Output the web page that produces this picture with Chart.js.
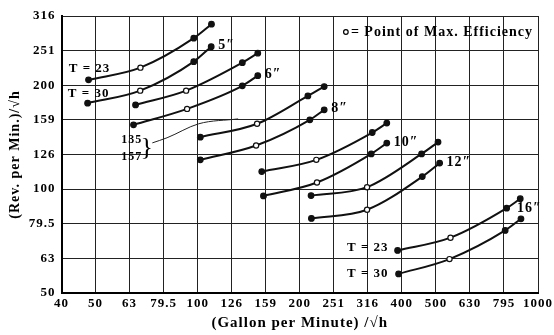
<!DOCTYPE html>
<html>
<head>
<meta charset="utf-8">
<script src="https://cdn.jsdelivr.net/npm/chart.js@4.4.1/dist/chart.umd.min.js"></script>
<style>
    html, body { margin: 0; padding: 0; background: #fff; }
    #wrap { width: 554px; height: 335px; }
</style>
</head>
<body>
<div id="wrap"><canvas id="pumpChart"></canvas></div>
<script>
// log-log axes, ticks are tenths of a decade
const xTickVals = [39.81, 50.12, 63.10, 79.43, 100, 125.9, 158.5, 199.5, 251.2, 316.2, 398.1, 501.2, 631.0, 794.3, 1000];
const xTickLabels = ['40', '50', '63', '79.5', '100', '126', '159', '200', '251', '316', '400', '500', '630', '795', '1000'];
const yTickVals = [50.12, 63.10, 79.43, 100, 125.9, 158.5, 199.5, 251.2, 316.2];
const yTickLabels = ['50', '63', '79.5', '100', '126', '159', '200', '251', '316'];

const sizes = ['5″', '6″', '8″', '10″', '12″', '16″'];
const tempLabels = ['T = 23', 'T = 30'];
const maxEffIdx = 1; // open circle = point of max efficiency

// gallons per minute / sqrt(h)  and  rev per min / sqrt(h)
const q5T23 = [47.8, 67.9, 97.4, 109.8];
const n5T23 = [206.8, 224.3, 272.8, 299.4];
const q5T30 = [47.5, 67.8, 97.4, 109.6];
const n5T30 = [177.1, 192.5, 233.4, 257.9];

const q6T23 = [65.7, 92.5, 135.3, 150.2];
const n6T23 = [175.1, 192.5, 231.9, 246.9];
const q6T30 = [64.8, 93.1, 135.3, 150.2];
const n6T30 = [153.3, 170.5, 198.7, 212.7];

const q8T23 = [101.8, 149.5, 210.8, 235.4];
const n8T23 = [141.3, 154.4, 185.9, 197.8];
const q8T30 = [101.8, 148.5, 213.6, 235.4];
const n8T30 = [121.5, 133.6, 158.5, 169.4];

const q10T23 = [154.3, 223.2, 325.8, 359.5];
const n10T23 = [112.4, 121.5, 145.7, 155.1];
const q10T30 = [156.1, 224.2, 323.6, 359.5];
const n10T30 = [95.6, 104.5, 126.4, 135.8];

const q12T23 = [215.4, 314.6, 454.9, 508.5];
const n12T23 = [95.8, 101.3, 126.4, 136.7];
const q12T30 = [215.9, 314.6, 457.1, 514.0];
const n12T30 = [82.3, 87.2, 108.7, 118.9];

const q16T23 = [386.8, 553.2, 808.8, 886.8];
const n16T23 = [66.5, 72.4, 88.1, 93.8];
const q16T30 = [389.4, 549.5, 800.8, 891.1];
const n16T30 = [56.9, 62.8, 76.0, 82.1];

// leader line from the "135 / 157" brace
const leaderQ = [73.6, 81.3, 100.7, 131.5];
const leaderN = [136.0, 140.7, 154.4, 159.5];

const curvesQ = [q5T23, q5T30, q6T23, q6T30, q8T23, q8T30, q10T23, q10T30, q12T23, q12T30, q16T23, q16T30];
const curvesN = [n5T23, n5T30, n6T23, n6T30, n8T23, n8T30, n10T23, n10T30, n12T23, n12T30, n16T23, n16T30];

var serif = '"Liberation Serif", "Times New Roman", serif';

var datasets = curvesQ.map(function(qs, c) {
    return {
        label: sizes[Math.floor(c / 2)] + ' ' + tempLabels[c % 2],
        data: qs.map(function(q, i) { return { x: q, y: curvesN[c][i] }; }),
        borderColor: '#111',
        borderWidth: 2,
        cubicInterpolationMode: 'monotone',
        pointRadius: qs.map(function(_, i) { return i === maxEffIdx ? 2.6 : 2.8; }),
        pointBackgroundColor: qs.map(function(_, i) { return i === maxEffIdx ? '#fff' : '#111'; }),
        pointBorderColor: '#111',
        pointBorderWidth: 1.2
    };
});
datasets.push({
    label: 'leader',
    data: leaderQ.map(function(q, i) { return { x: q, y: leaderN[i] }; }),
    borderColor: '#222',
    borderWidth: 1,
    cubicInterpolationMode: 'monotone',
    pointRadius: 0
});

// spaced-out lettering like the printed figure
var spacing = {
    id: 'spacing',
    beforeDraw: function(chart) { chart.ctx.letterSpacing = '1px'; }
};

var notes = {
    id: 'notes',
    afterDatasetsDraw: function(chart) {
        var ctx = chart.ctx;
        var pt = function(c, i) { return chart.getDatasetMeta(c).data[i]; };
        ctx.save();
        ctx.letterSpacing = '1px';
        ctx.fillStyle = '#000';
        ctx.textBaseline = 'middle';

        // size labels at the end of each T=30 curve
        ctx.font = 'bold 14px ' + serif;
        ctx.textAlign = 'left';
        sizes.forEach(function(s, k) {
            var c = 2 * k + 1;
            var last = pt(c, curvesQ[c].length - 1);
            if (k === sizes.length - 1) ctx.fillText(s, last.x - 4, last.y - 10);
            else ctx.fillText(s, last.x + 7, last.y - 1);
        });

        // temperature labels on the 5" and 16" pumps
        ctx.font = 'bold 13px ' + serif;
        ctx.textAlign = 'center';
        ctx.fillText(tempLabels[0], pt(0, 0).x + 1, pt(0, 0).y - 11);
        ctx.fillText(tempLabels[1], pt(1, 0).x + 1, pt(1, 0).y - 10);
        ctx.textAlign = 'right';
        ctx.fillText(tempLabels[0], pt(10, 0).x - 9, pt(10, 0).y - 3);
        ctx.fillText(tempLabels[1], pt(11, 0).x - 10, pt(11, 0).y);

        // brace with the two numbers
        var lead = pt(datasets.length - 1, 0);
        ctx.font = 'bold 12px ' + serif;
        ctx.fillText('135', lead.x - 10, lead.y - 3);
        ctx.fillText('157', lead.x - 10, lead.y + 14);
        ctx.font = '26px ' + serif;
        ctx.textAlign = 'center';
        ctx.fillText('}', lead.x - 5, lead.y + 5);

        // key, top right
        var ca = chart.chartArea;
        ctx.font = 'bold 14px ' + serif;
        ctx.textAlign = 'right';
        var keyText = '= Point of Max. Efficiency';
        var ky = ca.top + 16;
        var kx = ca.right - 5;
        ctx.fillText(keyText, kx, ky);
        var w = ctx.measureText(keyText).width;
        ctx.beginPath();
        ctx.arc(kx - w - 5, ky, 2.3, 0, Math.PI * 2);
        ctx.fillStyle = '#fff';
        ctx.fill();
        ctx.lineWidth = 1.2;
        ctx.strokeStyle = '#000';
        ctx.stroke();
        ctx.restore();
    }
};

var ctx = document.getElementById('pumpChart').getContext('2d');
var pumpChart = new Chart(ctx, {
    type: 'line',
    data: { datasets: datasets },
    plugins: [spacing, notes],
    options: {
        responsive: true,
        maintainAspectRatio: false,
        animation: false,
        devicePixelRatio: 1,
        layout: { padding: { top: 16, right: 10.5, left: 0, bottom: 0 } },
        plugins: {
            legend: { display: false },
            tooltip: { enabled: false }
        },
        scales: {
            x: {
                type: 'logarithmic',
                min: 39.81,
                max: 1000,
                bounds: 'data',
                afterBuildTicks: function(s) { s.ticks = xTickVals.map(function(v) { return { value: v }; }); },
                afterFit: function(s) { s.height = 42; },
                grid: { color: '#222', lineWidth: 1, drawTicks: false },
                border: { color: '#000', width: 2 },
                ticks: {
                    padding: 3,
                    color: '#000',
                    autoSkip: false,
                    maxRotation: 0,
                    font: { family: serif, size: 13, weight: 'bold' },
                    callback: function(v, i) { return xTickLabels[i]; }
                },
                title: {
                    display: true,
                    text: '(Gallon per Minute) /√h',
                    color: '#000',
                    font: { family: serif, size: 15, weight: 'bold' },
                    padding: { top: 0, bottom: 3 }
                }
            },
            y: {
                type: 'logarithmic',
                min: 50.12,
                max: 316.2,
                bounds: 'data',
                afterBuildTicks: function(s) { s.ticks = yTickVals.map(function(v) { return { value: v }; }); },
                afterFit: function(s) { s.width = 61.5; },
                grid: { color: '#222', lineWidth: 1, drawTicks: false },
                border: { color: '#000', width: 2 },
                ticks: {
                    padding: 6,
                    color: '#000',
                    autoSkip: false,
                    font: { family: serif, size: 13, weight: 'bold' },
                    callback: function(v, i) { return yTickLabels[i]; }
                },
                title: {
                    display: true,
                    text: '(Rev. per Min.)/√h',
                    color: '#000',
                    font: { family: serif, size: 14, weight: 'bold' },
                    padding: { top: 7, bottom: 0 }
                }
            }
        }
    }
});
</script>
</body>
</html>
